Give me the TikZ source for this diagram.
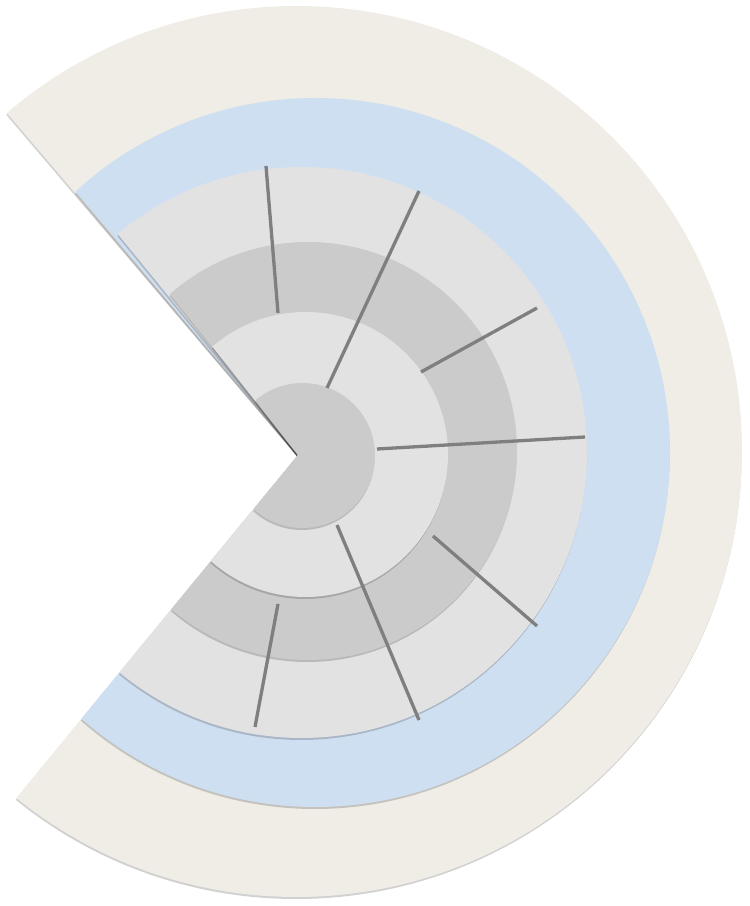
\documentclass[tikz,border=0pt]{standalone}
\usepackage{tikz}
\definecolor{ringbeige}{HTML}{EFEDE6}
\definecolor{ringblue}{HTML}{CFDFF2}
\definecolor{ringlight}{HTML}{E2E2E2}
\definecolor{ringdark}{HTML}{CBCBCB}
\definecolor{spokegray}{HTML}{7F7F7F}
\def\apexx{298}
\def\apexy{451}
\def\pieclose{-129.4}
\tikzset{
  ringshadow/.style={fill=black, opacity=0.18},
  spoke/.style={draw=spokegray, line width=3.3pt}
}
% centre x, centre y, radius, opening angle, colour
\newcommand{\pieslice}[5]{%
	\begin{scope}[shift={(-0.5,-2)}]
		\clip (\apexx,\apexy) -- +(\pieclose:900) -- +(-60:1200) -- +(60:1200) -- +(#4:900) -- cycle;
		\fill[ringshadow] (#1,#2) circle[radius=#3];
	\end{scope}
	\begin{scope}
		\clip (\apexx,\apexy) -- +(\pieclose:900) -- +(-60:1200) -- +(60:1200) -- +(#4:900) -- cycle;
		\fill[#5] (#1,#2) circle[radius=#3];
	\end{scope}}

\begin{document}
\begin{tikzpicture}[x=1pt, y=1pt]
	\useasboundingbox (0,0) rectangle (750,906);
	% stacked pie slices, outer to inner
	\pieslice{296.5}{454.5}{445.5}{130.4}{ringbeige}
	\pieslice{315.5}{453.5}{354.5}{130.2}{ringblue}
	\pieslice{301.5}{453.5}{285.5}{129.2}{ringlight}
	\pieslice{308}{455}{209}{128.5}{ringdark}
	\pieslice{305.5}{451.5}{142.5}{128.3}{ringlight}
	\pieslice{302.5}{450.5}{72.5}{128}{ringdark}
	% spokes
	\foreach \xa/\ya/\xb/\yb in {278/593/266/740, 327/518/419/715, 421/534/537/598, 377/457/585/469,
		433/370/537/280, 337/381/419/186, 278/302/255/179}
		\draw[spoke] (\xa,\ya) -- (\xb,\yb);
\end{tikzpicture}
\end{document}
